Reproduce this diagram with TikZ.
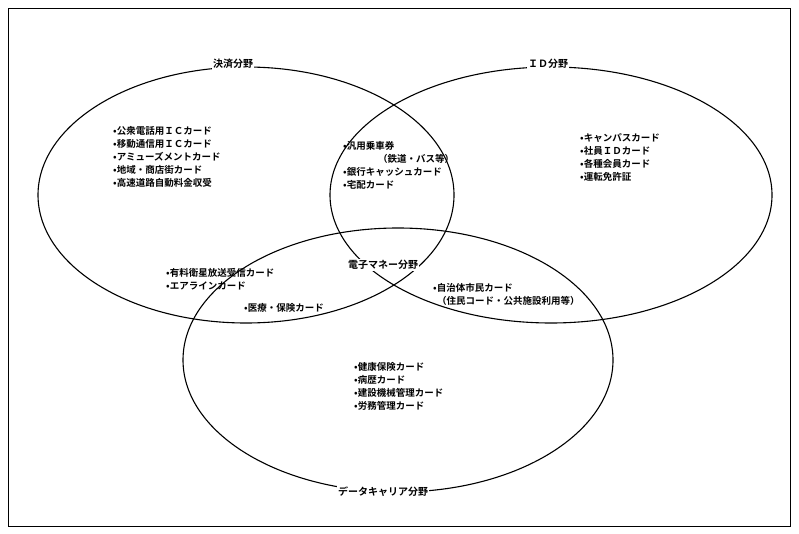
\documentclass[tikz,border=0pt]{standalone}
\usepackage{fontspec}
\newfontfamily\jp{Noto Sans CJK JP}[BoldFont={* Bold}]
\begin{document}
\begin{tikzpicture}[x=1pt,y=-1pt,
  item/.style={anchor=west,inner sep=0pt,font=\jp\fontsize{9.5}{12}\selectfont\bfseries,align=left},
  lab/.style={fill=white,inner sep=1pt,font=\jp\fontsize{10}{12}\selectfont\bfseries},
  ell/.style={draw,line width=1.1pt}]
\useasboundingbox (0,0) rectangle (799,534);
\draw[line width=0.8pt] (8,8) rectangle (790,526);
\draw[ell] (246,195) ellipse [x radius=208, y radius=128];
\draw[ell] (551,195) ellipse [x radius=221, y radius=128];
\draw[ell] (398,360) ellipse [x radius=215, y radius=132];
\node[lab] (pay) at (233,64) {決済分野};
\node[lab] (id) at (548,64) {ＩＤ分野};
\node[lab] (em) at (383,265) {電子マネー分野};
\node[lab] (dc) at (383,492) {データキャリア分野};
\node[item] (l1) at (113,131) {•公衆電話用ＩＣカード};
\node[item] (l2) at (113,144) {•移動通信用ＩＣカード};
\node[item] (l3) at (113,157) {•アミューズメントカード};
\node[item] (l4) at (113,170) {•地域・商店街カード};
\node[item] (l5) at (113,183) {•高速道路自動料金収受};
\node[item] (m1) at (343,146) {•汎用乗車券};
\node[item] (m2) at (378,159) {（鉄道・バス等）};
\node[item] (m3) at (343,172) {•銀行キャッシュカード};
\node[item] (m4) at (343,185) {•宅配カード};
\node[item] (r1) at (580,138) {•キャンパスカード};
\node[item] (r2) at (580,151) {•社員ＩＤカード};
\node[item] (r3) at (580,164) {•各種会員カード};
\node[item] (r4) at (580,177) {•運転免許証};
\node[item] (e1) at (166,273) {•有料衛星放送受信カード};
\node[item] (e2) at (166,286) {•エアラインカード};
\node[item] (e3) at (244,308) {•医療・保険カード};
\node[item] (f1) at (433,288) {•自治体市民カード};
\node[item] (f2) at (437,301) {（住民コード・公共施設利用等）};
\node[item] (b1) at (354,367) {•健康保険カード};
\node[item] (b2) at (354,380) {•病歴カード};
\node[item] (b3) at (354,393) {•建設機械管理カード};
\node[item] (b4) at (354,406) {•労務管理カード};
\end{tikzpicture}
\end{document}
